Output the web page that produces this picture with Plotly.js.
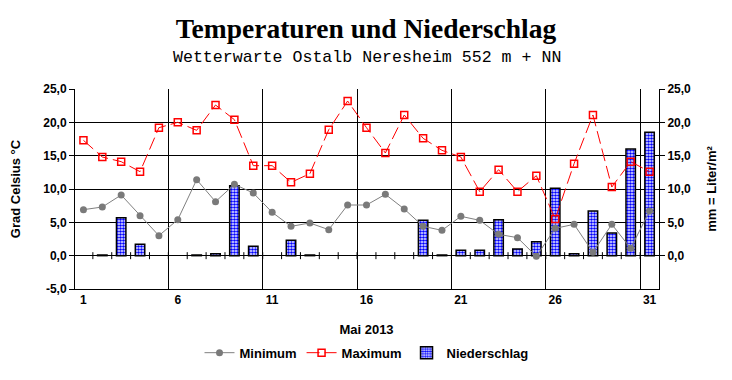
<!DOCTYPE html>
<html>
<head>
<meta charset="utf-8">
<script src="https://cdn.plot.ly/plotly-3.0.1.min.js"></script>
<style>html,body{margin:0;padding:0;background:#fff;}#chart{width:732px;height:380px;}</style>
</head>
<body>
<div id="chart"></div>
<script>
// Days of May 2013
const days = [1,2,3,4,5,6,7,8,9,10,11,12,13,14,15,16,17,18,19,20,21,22,23,24,25,26,27,28,29,30,31];
// Daily minimum temperature (°C)
const tempMin = [6.9,7.3,9.1,6.0,3.0,5.4,11.4,8.1,10.7,9.4,6.5,4.4,4.9,3.9,7.6,7.6,9.2,7.0,4.4,3.8,5.9,5.3,3.2,2.7,-0.1,4.1,4.7,0.5,4.7,1.1,6.7];
// Daily maximum temperature (°C)
const tempMax = [17.3,14.8,14.1,12.6,19.2,20.0,18.8,22.6,20.4,13.5,13.5,11.0,12.3,18.9,23.2,19.2,15.4,21.1,17.6,15.8,14.8,9.6,12.9,9.6,12.0,5.5,13.8,21.1,10.3,14.1,12.6];
// Daily precipitation (mm)
const precip = [0,0.1,5.7,1.7,0,0,0.1,0.3,10.5,1.4,0,2.3,0.1,0,0,0,0,0,5.3,0.1,0.8,0.8,5.4,1.0,2.1,10.1,0.3,6.7,3.4,16.0,18.5];
// Tick labels
const xLabelDays = [1,6,11,16,21,26,31];
const tempTicks = [-5,0,5,10,15,20,25];
const precipTicks = [0,5,10,15,20,25];

const fmt = v => v.toFixed(1).replace('.', ',');
const gridDays = xLabelDays.slice(1).map(d => d - 0.5);
const boundaryDays = days.slice(0, -1).map(d => d + 0.5);

const F = 'Liberation Sans, Arial, sans-serif';
const bold = {family: F, size: 12, color: '#000', weight: 'bold'};
const titleFont = {family: F, size: 13, color: '#000', weight: 'bold'};

const traces = [
  {
    type: 'bar', name: 'Niederschlag', x: days, y: precip.map(v => v > 0 ? v : null), width: 0.5,
    legendrank: 3,
    marker: {color: '#ffffff', line: {color: '#000', width: 1.5},
      pattern: {shape: '.', fgcolor: '#0000ff', bgcolor: '#ffffff', size: 3, solidity: 0.6}},
    xaxis: 'x', yaxis: 'y'
  },
  {
    // day-boundary tick marks on the zero line
    type: 'scatter', mode: 'markers', name: 'ticks', showlegend: false, hoverinfo: 'skip',
    x: boundaryDays, y: boundaryDays.map(() => 0),
    marker: {symbol: 'line-ns', size: 5, line: {color: '#000', width: 1}},
    xaxis: 'x', yaxis: 'y'
  },
  {
    type: 'scatter', mode: 'lines+markers', name: 'Minimum', x: days, y: tempMin,
    legendrank: 1,
    line: {color: '#808080', width: 1},
    marker: {symbol: 'circle', size: 7, color: '#7a7a7a'},
    xaxis: 'x', yaxis: 'y2'
  },
  {
    type: 'scatter', mode: 'lines+markers', name: 'Maximum', x: days, y: tempMax,
    legendrank: 2,
    line: {color: '#ff0000', width: 1, dash: '13px,5px'},
    marker: {symbol: 'square-open', size: 7, color: '#ff0000', line: {width: 1.5, color: '#ff0000'}},
    xaxis: 'x', yaxis: 'y2'
  }
];

const layout = {
  width: 732, height: 380,
  margin: {l: 74, r: 73, t: 89, b: 87},
  paper_bgcolor: '#fff', plot_bgcolor: '#fff',
  showlegend: true,
  title: {
    text: 'Temperaturen und Niederschlag',
    font: {family: 'Liberation Serif, Times New Roman, serif', size: 27.5, color: '#000', weight: 'bold'},
    x: 0.5, xanchor: 'center', y: 1 - 28/380, yanchor: 'middle', yref: 'container'
  },
  annotations: [{
    text: 'Wetterwarte Ostalb Neresheim 552 m + NN',
    xref: 'paper', yref: 'paper', x: 0.5, y: (293 - 57) / 204, xanchor: 'center', yanchor: 'middle',
    showarrow: false,
    font: {family: 'Liberation Mono, Courier New, monospace', size: 16.6, color: '#000'}
  }],
  legend: {
    orientation: 'h', x: 0.5, xanchor: 'center', y: (293 - 358) / 204, yanchor: 'middle',
    font: {family: F, size: 13, color: '#000', weight: 'bold'},
    bgcolor: 'rgba(0,0,0,0)'
  },
  xaxis: {
    range: [0.5, 31.5], tickmode: 'array', tickvals: xLabelDays, ticktext: xLabelDays.map(String),
    showgrid: false, zeroline: false, showline: true, linecolor: '#000', linewidth: 1,
    ticks: '', tickfont: bold,
    minor: {tickmode: 'array', tickvals: gridDays, showgrid: true, gridcolor: '#000', gridwidth: 1, ticks: ''},
    title: {text: 'Mai 2013', font: titleFont, standoff: 18}
  },
  // precipitation axis (right)
  yaxis: {
    side: 'right', anchor: 'x', range: [-5, 25], tickmode: 'array', tickvals: precipTicks, ticktext: precipTicks.map(fmt),
    showgrid: true, gridcolor: '#000', gridwidth: 1, zeroline: false,
    showline: true, linecolor: '#000', linewidth: 1, ticks: 'outside', ticklen: 5, tickcolor: '#000',
    tickfont: bold,
    title: {text: 'mm = Liter/m²', font: titleFont, standoff: 16}
  },
  // temperature axis (left)
  yaxis2: {
    overlaying: 'y', matches: 'y', side: 'left', anchor: 'free', position: 0,
    tickmode: 'array', tickvals: tempTicks, ticktext: tempTicks.map(fmt),
    showgrid: false, zeroline: false, showline: true, linecolor: '#000', linewidth: 1,
    ticks: 'outside', ticklen: 5, tickcolor: '#000', tickfont: bold,
    title: {text: 'Grad Celsius °C', font: titleFont, standoff: 18}
  }
};

Plotly.newPlot('chart', traces, layout, {displayModeBar: false, staticPlot: true});
</script>
</body>
</html>
